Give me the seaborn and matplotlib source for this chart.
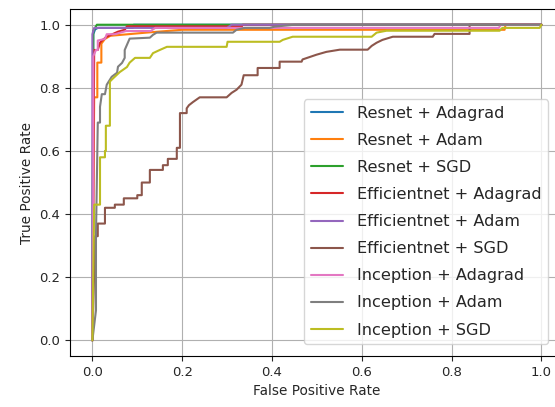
import pandas as pd
import matplotlib
matplotlib.use("Agg")
import matplotlib.pyplot as plt
import seaborn as sns

# ROC curve corner points
models = ["Resnet + Adagrad", "Resnet + Adam", "Resnet + SGD",
          "Efficientnet + Adagrad", "Efficientnet + Adam", "Efficientnet + SGD",
          "Inception + Adagrad", "Inception + Adam", "Inception + SGD"]

resnet_adagrad_fpr = [0, 0.002, 0.006, 0.012, 0.09, 0.092, 1]
resnet_adagrad_tpr = [0, 0.97, 0.985, 0.99, 0.99, 1.0, 1]

resnet_adam_fpr = [0, 0.004, 0.011, 0.011, 0.02, 0.02, 0.028, 0.04, 0.12, 0.2, 0.918, 0.92, 1]
resnet_adam_tpr = [0, 0.77, 0.77, 0.88, 0.88, 0.94, 0.955, 0.965, 0.975, 0.984, 0.984, 1.0, 1]

resnet_sgd_fpr = [0, 0.002, 0.006, 0.01, 1]
resnet_sgd_tpr = [0, 0.98, 0.99, 1.0, 1]

effnet_adagrad_fpr = [0, 0.004, 0.012, 0.017, 0.023, 0.032, 0.057, 0.072, 0.077, 0.333, 0.335, 1]
effnet_adagrad_tpr = [0, 0.92, 0.92, 0.943, 0.952, 0.962, 0.978, 0.984, 0.995, 0.995, 1.0, 1]

effnet_adam_fpr = [0, 0.0, 0.004, 0.3, 0.31, 1]
effnet_adam_tpr = [0, 0.97, 0.99, 0.99, 1.0, 1]

effnet_sgd_fpr = [0, 0.006, 0.012, 0.012, 0.028, 0.028, 0.05, 0.05, 0.07, 0.07, 0.10, 0.10,
                  0.11, 0.11, 0.128, 0.128, 0.157, 0.157, 0.168, 0.168, 0.188, 0.188, 0.195,
                  0.195, 0.21, 0.21, 0.215, 0.224, 0.239, 0.299, 0.31, 0.321, 0.332, 0.337,
                  0.368, 0.368, 0.417, 0.417, 0.466, 0.468, 0.499, 0.521, 0.551, 0.613, 0.622,
                  0.633, 0.646, 0.669, 0.758, 0.762, 0.84, 0.84, 1]
effnet_sgd_tpr = [0, 0.33, 0.33, 0.37, 0.37, 0.42, 0.42, 0.43, 0.43, 0.45, 0.45, 0.46,
                  0.46, 0.50, 0.50, 0.54, 0.54, 0.555, 0.555, 0.575, 0.575, 0.61, 0.61,
                  0.72, 0.72, 0.735, 0.745, 0.755, 0.77, 0.77, 0.784, 0.794, 0.81, 0.84,
                  0.84, 0.863, 0.863, 0.883, 0.883, 0.89, 0.905, 0.914, 0.921, 0.921, 0.933,
                  0.943, 0.952, 0.962, 0.962, 0.971, 0.971, 1.0, 1]

incep_adagrad_fpr = [0, 0.002, 0.002, 0.008, 0.012, 0.012, 0.028, 0.032, 0.05, 0.075, 0.13, 0.14, 0.905, 0.91, 1]
incep_adagrad_tpr = [0, 0.45, 0.9, 0.92, 0.92, 0.95, 0.955, 0.97, 0.97, 0.98, 0.98, 0.99, 0.99, 1.0, 1]

incep_adam_fpr = [0, 0.008, 0.008, 0.012, 0.017, 0.017, 0.021, 0.028, 0.032, 0.043, 0.055, 0.057,
                  0.066, 0.072, 0.072, 0.079, 0.083, 0.128, 0.135, 0.143, 0.313, 0.321, 0.339,
                  0.395, 0.406, 0.45, 1]
incep_adam_tpr = [0, 0.095, 0.33, 0.69, 0.69, 0.74, 0.78, 0.78, 0.81, 0.835, 0.848, 0.867,
                  0.879, 0.895, 0.92, 0.943, 0.956, 0.959, 0.968, 0.975, 0.975, 0.984, 0.99,
                  0.99, 0.994, 1.0, 1]

incep_sgd_fpr = [0, 0.004, 0.017, 0.017, 0.028, 0.028, 0.03, 0.03, 0.039, 0.039, 0.046, 0.061,
                 0.077, 0.083, 0.095, 0.128, 0.135, 0.15, 0.166, 0.299, 0.301, 0.417, 0.424,
                 0.446, 0.622, 0.633, 0.655, 0.907, 0.913, 0.996, 1]
incep_sgd_tpr = [0, 0.43, 0.43, 0.58, 0.58, 0.60, 0.60, 0.68, 0.68, 0.82, 0.83, 0.85,
                 0.866, 0.88, 0.895, 0.895, 0.91, 0.92, 0.93, 0.93, 0.946, 0.946, 0.952,
                 0.962, 0.962, 0.975, 0.981, 0.981, 0.99, 0.99, 1]

curves = [(resnet_adagrad_fpr, resnet_adagrad_tpr), (resnet_adam_fpr, resnet_adam_tpr),
          (resnet_sgd_fpr, resnet_sgd_tpr), (effnet_adagrad_fpr, effnet_adagrad_tpr),
          (effnet_adam_fpr, effnet_adam_tpr), (effnet_sgd_fpr, effnet_sgd_tpr),
          (incep_adagrad_fpr, incep_adagrad_tpr), (incep_adam_fpr, incep_adam_tpr),
          (incep_sgd_fpr, incep_sgd_tpr)]

frames = []
for name, (fpr, tpr) in zip(models, curves):
    frames.append(pd.DataFrame({"fpr": fpr, "tpr": tpr, "model": name}))
df = pd.concat(frames, ignore_index=True)

sns.set_theme(style="ticks", rc={
    "axes.edgecolor": "black", "axes.linewidth": 0.8,
    "grid.color": "#b0b0b0", "grid.linewidth": 0.8,
    "xtick.color": "#262626", "ytick.color": "#262626",
    "text.color": "#262626", "axes.labelcolor": "#262626",
})
plt.rcParams["font.family"] = ["DejaVu Sans"]

fig = plt.figure(figsize=(5.55, 4.07), dpi=100)
# axes run past the right edge of the figure, like the cropped original
ax = fig.add_axes([0.126, 0.125, 0.89, 0.853])

sns.lineplot(data=df, x="fpr", y="tpr", hue="model", hue_order=models,
             palette="tab10", sort=False, estimator=None, units="model",
             linewidth=1.5, ax=ax)

ax.set_xlim(-0.05, 1.05)
ax.set_ylim(-0.05, 1.05)
ax.set_xticks([0, 0.2, 0.4, 0.6, 0.8, 1.0])
ax.set_yticks([0, 0.2, 0.4, 0.6, 0.8, 1.0])
ax.tick_params(labelsize=9.5, length=3.5, width=0.8)
ax.grid(True)
ax.set_xlabel("False Positive Rate", fontsize=9.8)
ax.set_ylabel("True Positive Rate", fontsize=9.8)
ax.legend(loc="lower left", bbox_to_anchor=(0.474, 0.035), borderaxespad=0,
          fontsize=11.6, labelspacing=0.75, handletextpad=0.9, title=None)

fig.savefig("out.png", dpi=100)
